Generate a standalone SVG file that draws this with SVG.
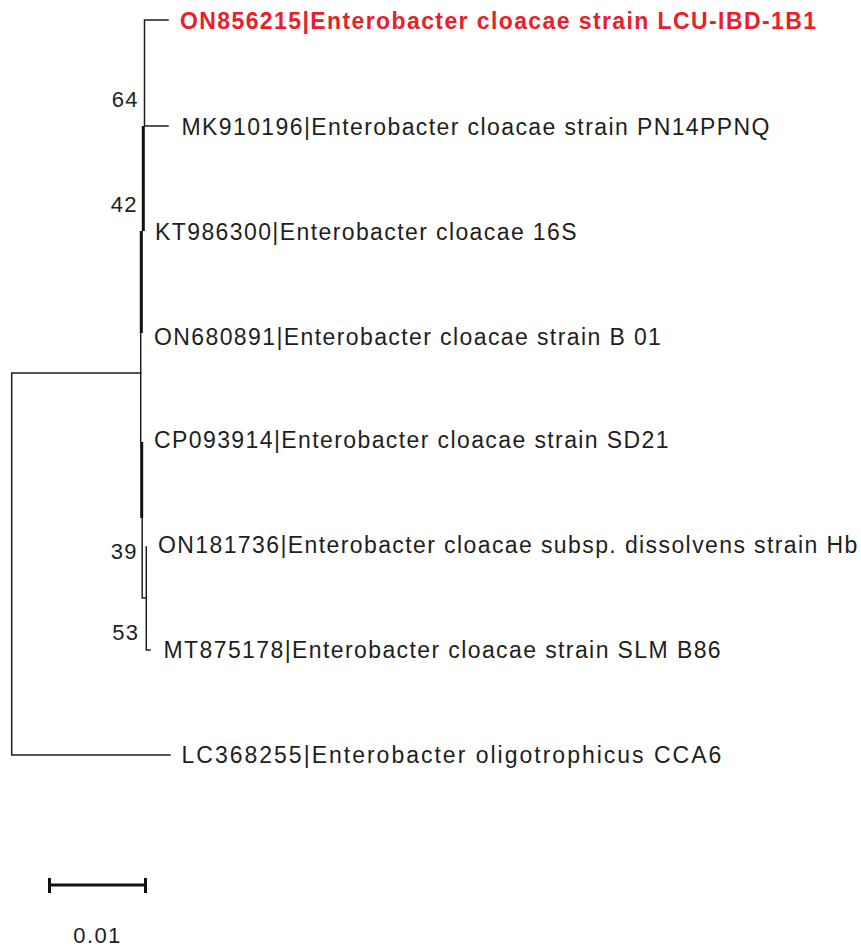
<svg xmlns="http://www.w3.org/2000/svg" width="861" height="949" viewBox="0 0 861 949">
  <style>
    .br { stroke: #1e1e1e; stroke-width: 1.5; fill: none; stroke-linecap: square; }
    .thick { stroke: #111; stroke-width: 3; fill: none; }
    .tip { font-family: "Liberation Sans", Arial, sans-serif; font-size: 23px; letter-spacing: 1.4px; fill: #1e1e1e; }
    .hl { fill: #e8202a; font-weight: bold; }
    .wide { letter-spacing: 2px; }
    .bs { font-family: "Liberation Sans", Arial, sans-serif; font-size: 22px; letter-spacing: 1.4px; fill: #1e1e1e; text-anchor: end; }
  </style>
  <rect width="861" height="949" fill="#ffffff"/>

  <!-- branches -->
  <g id="branches">
    <!-- root and outgroup -->
    <path class="br" d="M140.7,373 H11.7 V755 H170"/>
    <!-- clade 64 -->
    <path class="br" d="M168,20 H144.5 V126 H168"/>
    <!-- backbone of the cloacae clade -->
    <line class="thick" x1="143.3" y1="126" x2="143.3" y2="231"/>
    <line class="thick" x1="141.3" y1="231" x2="141.3" y2="333"/>
    <line class="br" x1="140.7" y1="333" x2="140.7" y2="442"/>
    <line class="thick" x1="141.7" y1="442" x2="141.7" y2="518"/>
    <!-- clade 39/53 -->
    <path class="br" d="M142.2,518 V598 H146.3"/>
    <path class="br" d="M146.3,547 V650 H150"/>
  </g>

  <!-- taxa -->
  <g id="ON856215"><text class="tip hl" x="180" y="28.5">ON856215|Enterobacter cloacae strain LCU-IBD-1B1</text></g>
  <g id="MK910196"><text class="tip" x="181.5" y="134.5">MK910196|Enterobacter cloacae strain PN14PPNQ</text></g>
  <g id="KT986300"><text class="tip" x="155" y="240">KT986300|Enterobacter cloacae 16S</text></g>
  <g id="ON680891"><text class="tip" x="154" y="345">ON680891|Enterobacter cloacae strain B 01</text></g>
  <g id="CP093914"><text class="tip" x="154" y="448">CP093914|Enterobacter cloacae strain SD21</text></g>
  <g id="ON181736"><text class="tip" x="158" y="553">ON181736|Enterobacter cloacae subsp. dissolvens strain Hb</text></g>
  <g id="MT875178"><text class="tip" x="163.5" y="658">MT875178|Enterobacter cloacae strain SLM B86</text></g>
  <g id="LC368255"><text class="tip wide" x="181.5" y="763">LC368255|Enterobacter oligotrophicus CCA6</text></g>

  <!-- bootstrap support -->
  <g id="support">
    <text class="bs" x="139" y="107">64</text>
    <text class="bs" x="138" y="212">42</text>
    <text class="bs" x="138" y="559">39</text>
    <text class="bs" x="139.5" y="640">53</text>
  </g>

  <!-- scale bar -->
  <g id="scale">
    <path class="thick" d="M48,885 H147 M49.5,878 V893 M145.5,878 V893"/>
    <text x="97.5" y="943" font-family="Liberation Sans, Arial, sans-serif" font-size="22" letter-spacing="1.4" fill="#1e1e1e" text-anchor="middle">0.01</text>
  </g>
</svg>
